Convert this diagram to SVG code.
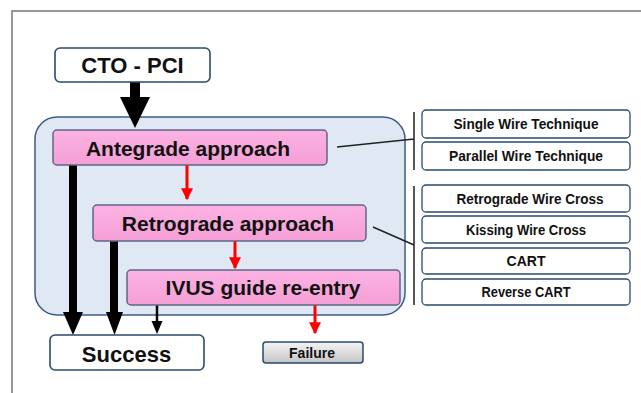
<svg xmlns="http://www.w3.org/2000/svg" width="641" height="393" viewBox="0 0 641 393">
<defs>
<linearGradient id="gFail" x1="0" y1="0" x2="0" y2="1"><stop offset="0" stop-color="#f4f4f4"/><stop offset="1" stop-color="#c4c4c4"/></linearGradient>
<linearGradient id="gPink" x1="0" y1="0" x2="0" y2="1"><stop offset="0" stop-color="#fbb3e2"/><stop offset="1" stop-color="#f59fd6"/></linearGradient>
<marker id="mRed" viewBox="0 0 10 10" refX="9" refY="5" markerWidth="4" markerHeight="4" orient="auto" markerUnits="strokeWidth"><path d="M0,0 L10,5 L0,10 z" fill="#ff0000"/></marker>
</defs>
<style>
.t{font-family:"Liberation Sans",Arial,sans-serif;font-weight:bold;fill:#111;text-anchor:middle}
.pink{fill:url(#gPink);stroke:#5f6585;stroke-width:1.5}
.wbox{fill:#fff;stroke:#2b4a6e;stroke-width:1.6}
.tech{fill:#fff;stroke:#2b4a6e;stroke-width:1.3}
.red{stroke:#ff0000;stroke-width:3;fill:none;marker-end:url(#mRed)}
.blk{fill:#000}
.br{stroke:#222;stroke-width:1.5;fill:none}
</style>
<rect width="641" height="393" fill="#fff"/>
<path d="M12,393 V11 H641" fill="none" stroke="#777" stroke-width="1.5"/>
<g id="container"><rect x="35" y="117" width="370" height="198" rx="22" fill="#dfe8f3" stroke="#3d5c85" stroke-width="1.5"/></g>
<g id="connectors">
<path class="blk" d="M130,82 H140 V97 H150 L135,128 L120,97 H130 Z"/>
<path class="blk" d="M69,165 H77 V312 H83 L73,335 L63,312 H69 Z"/>
<path class="blk" d="M110,241 H118 V312 H123 L114.5,335 L106,312 H110 Z"/>
<path d="M157,305 V322" stroke="#000" stroke-width="2.5"/>
<path class="blk" d="M151.5,321 H162.5 L157,334 Z"/>
<path class="red" d="M187,165 V199"/>
<path class="red" d="M235,241 V268"/>
<path class="red" d="M315,305 V333"/>
<path class="br" d="M414,112 V170 M337,147 L414,139"/>
<path class="br" d="M414,186 V305 M373,227 L414,245"/>
</g>
<g id="cto"><rect class="wbox" x="55" y="48" width="155" height="34" rx="5"/><text class="t" x="132.5" y="73" font-size="22">CTO - PCI</text></g>
<g id="antegrade"><rect class="pink" x="53" y="130" width="274" height="35" rx="4"/><text class="t" x="188" y="155.5" font-size="21">Antegrade approach</text></g>
<g id="retrograde"><rect class="pink" x="93" y="205" width="273" height="36" rx="4"/><text class="t" x="228" y="231" font-size="21">Retrograde approach</text></g>
<g id="ivus"><rect class="pink" x="127" y="270" width="273" height="35" rx="4"/><text class="t" x="263" y="295" font-size="21">IVUS guide re-entry</text></g>
<g id="success"><rect class="wbox" x="50" y="335" width="154" height="35" rx="5"/><text class="t" x="126.5" y="361.5" font-size="22">Success</text></g>
<g id="failure"><rect x="263" y="342" width="100" height="21" rx="3" fill="url(#gFail)" stroke="#2b4a6e" stroke-width="1.5"/><text class="t" x="312" y="357.5" font-size="14">Failure</text></g>
<g id="single"><rect class="tech" x="422" y="110" width="208" height="28" rx="4"/><text class="t" x="526" y="129" font-size="14" textLength="145" lengthAdjust="spacingAndGlyphs">Single Wire Technique</text></g>
<g id="parallel"><rect class="tech" x="422" y="142" width="208" height="28" rx="4"/><text class="t" x="526" y="161" font-size="14" textLength="154" lengthAdjust="spacingAndGlyphs">Parallel Wire Technique</text></g>
<g id="rwc"><rect class="tech" x="422" y="185" width="208" height="27" rx="4"/><text class="t" x="530" y="203.5" font-size="14" textLength="147" lengthAdjust="spacingAndGlyphs">Retrograde Wire Cross</text></g>
<g id="kwc"><rect class="tech" x="422" y="216" width="208" height="27" rx="4"/><text class="t" x="526" y="234.5" font-size="14" textLength="120" lengthAdjust="spacingAndGlyphs">Kissing Wire Cross</text></g>
<g id="cart"><rect class="tech" x="422" y="248" width="208" height="26" rx="4"/><text class="t" x="526" y="266" font-size="14">CART</text></g>
<g id="rcart"><rect class="tech" x="422" y="279" width="208" height="26" rx="4"/><text class="t" x="526" y="297" font-size="14" textLength="89" lengthAdjust="spacingAndGlyphs">Reverse CART</text></g>
</svg>
